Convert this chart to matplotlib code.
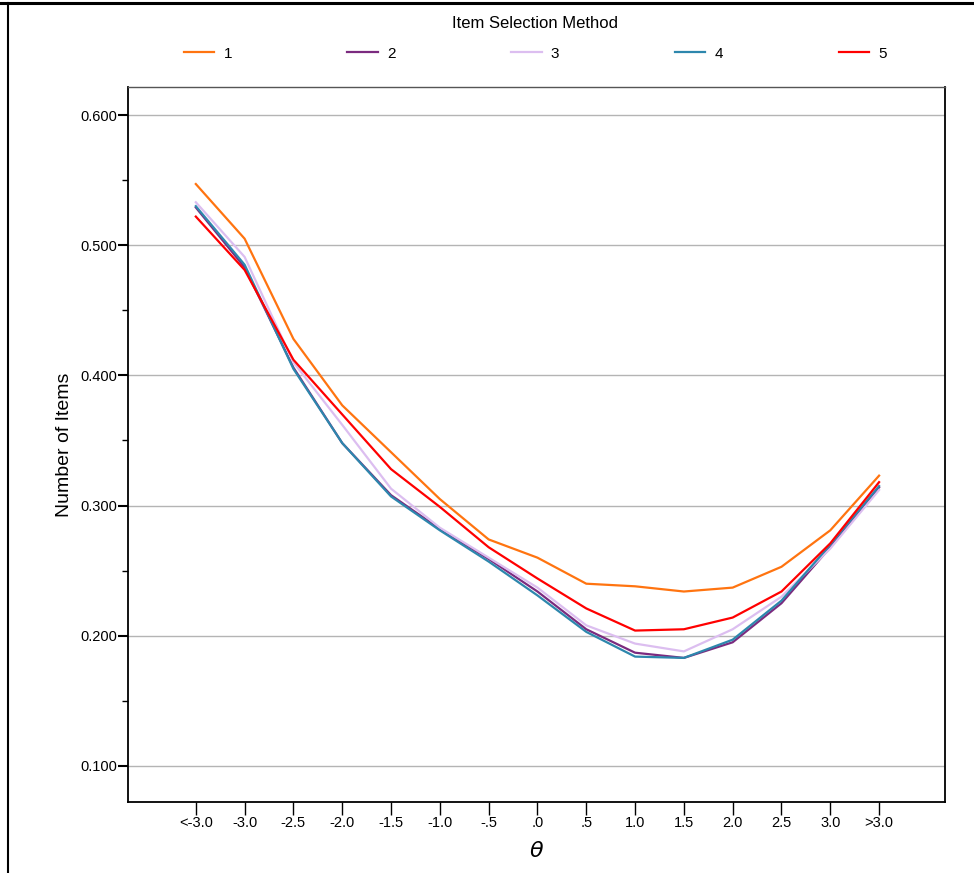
import numpy as np
import matplotlib
matplotlib.use("Agg")
import matplotlib.pyplot as plt
from matplotlib.lines import Line2D
from matplotlib.ticker import MultipleLocator

plt.rcParams['font.family'] = ['Liberation Sans', 'DejaVu Sans']

# theta categories along the x axis
theta_labels = ['<-3.0', '-3.0', '-2.5', '-2.0', '-1.5', '-1.0', '-.5', '.0',
                '.5', '1.0', '1.5', '2.0', '2.5', '3.0', '>3.0']

# values, one list per item selection method
method_1 = [0.547, 0.505, 0.428, 0.377, 0.341, 0.305, 0.274, 0.260,
            0.240, 0.238, 0.234, 0.237, 0.253, 0.281, 0.323]
method_2 = [0.529, 0.483, 0.406, 0.348, 0.308, 0.282, 0.259, 0.234,
            0.205, 0.187, 0.183, 0.195, 0.225, 0.268, 0.314]
method_3 = [0.533, 0.491, 0.410, 0.362, 0.313, 0.283, 0.260, 0.237,
            0.208, 0.194, 0.188, 0.205, 0.230, 0.267, 0.312]
method_4 = [0.530, 0.485, 0.405, 0.348, 0.307, 0.281, 0.257, 0.231,
            0.203, 0.184, 0.183, 0.197, 0.227, 0.270, 0.315]
method_5 = [0.522, 0.481, 0.412, 0.370, 0.328, 0.299, 0.268, 0.244,
            0.221, 0.204, 0.205, 0.214, 0.234, 0.271, 0.318]

series = [('1', method_1, '#ff7410'),
          ('2', method_2, '#7b2b7f'),
          ('3', method_3, '#dcbef0'),
          ('4', method_4, '#2d87ad'),
          ('5', method_5, '#ff0000')]

fig = plt.figure(figsize=(9.74, 8.73), dpi=100)
ax = fig.add_axes([0.1314, 0.0813, 0.8388, 0.819])

x = np.arange(len(theta_labels))
for name, vals, col in series:
    ax.plot(x, vals, color=col, lw=1.6, label=name)

ax.set_xlim(-1.39, 15.35)
ax.set_ylim(0.0723, 0.6215)
ax.set_xticks(x)
ax.set_xticklabels(theta_labels, fontsize=10.5)
ax.yaxis.set_minor_locator(MultipleLocator(0.05))
ax.set_yticks([0.1, 0.2, 0.3, 0.4, 0.5, 0.6])
ax.set_yticklabels(['0.100', '0.200', '0.300', '0.400', '0.500', '0.600'], fontsize=10.5)
ax.tick_params(axis='y', which='major', length=7, width=1.5, pad=1)
ax.tick_params(axis='y', which='minor', length=4, width=1)
ax.tick_params(axis='x', length=9, width=1, pad=1)
ax.yaxis.grid(True, which='major', color='#b4b4b4', lw=1)
ax.set_axisbelow(True)

for s in ['left', 'bottom', 'right']:
    ax.spines[s].set_linewidth(1.3)
ax.spines['top'].set_color('#555555')
ax.spines['top'].set_linewidth(1)

ax.set_ylabel('Number of Items', fontsize=14, labelpad=5)
ax.set_xlabel(r'$\theta$', fontsize=16, labelpad=8)

leg = fig.legend(loc='center', bbox_to_anchor=(0.5495, 0.956), ncol=5,
                 frameon=False, fontsize=11, handlelength=2.0, handletextpad=0.6,
                 columnspacing=7.56, title='Item Selection Method',
                 title_fontsize=12)
leg._legend_box.sep = 11

# border lines around the outer figure
fig.add_artist(Line2D([0, 1], [0.9965, 0.9965], color='black', lw=2.2))
fig.add_artist(Line2D([0.0085, 0.0085], [0, 0.9965], color='black', lw=1.5))

fig.savefig('out.png', dpi=100)
